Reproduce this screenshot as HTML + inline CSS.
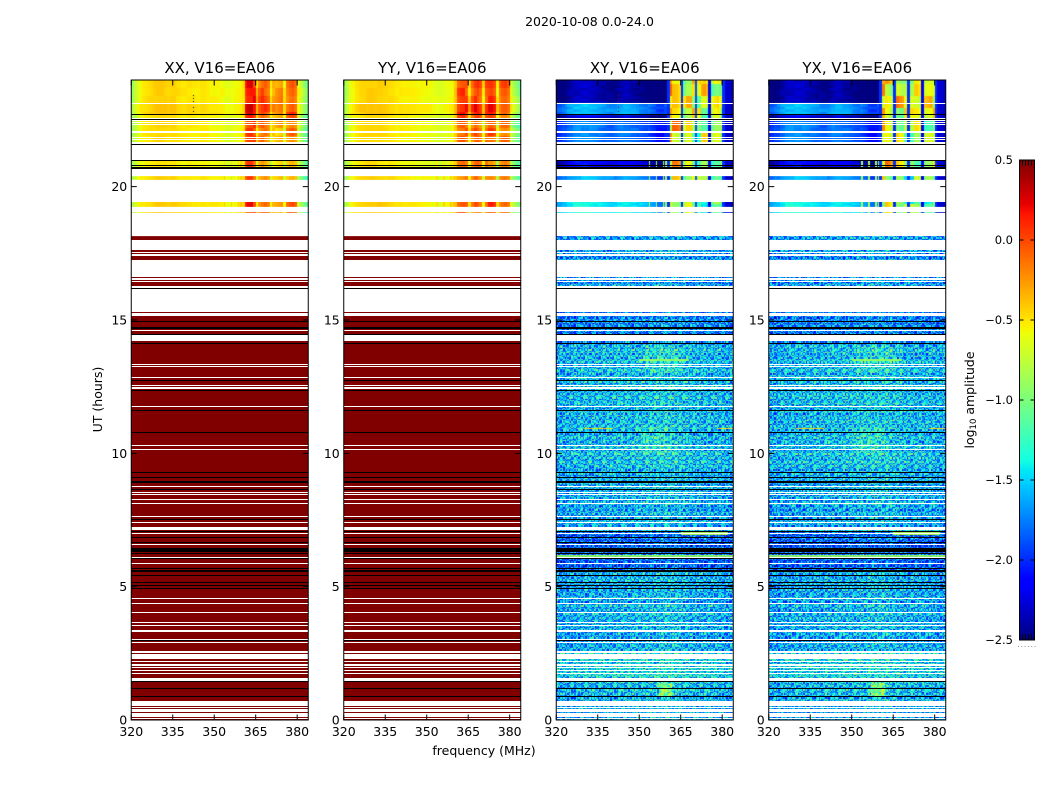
<!DOCTYPE html>
<html lang="en">
<head>
<meta charset="utf-8">
<title>2020-10-08 0.0-24.0</title>
<style>
html,body{margin:0;padding:0;background:#fff;width:1050px;height:800px;overflow:hidden}
#figure{position:relative;width:1050px;height:800px}
canvas{position:absolute;display:block}
svg{position:absolute;left:0;top:0}
text{font-family:"DejaVu Sans","Liberation Sans",sans-serif;fill:#000}
</style>
</head>
<body>
<div id="figure">
<svg id="overlay" width="1050" height="800" viewBox="0 0 1050 800" xmlns="http://www.w3.org/2000/svg">
  <text x="589.5" y="26" font-size="12.5" text-anchor="middle">2020-10-08 0.0-24.0</text>
  <text x="484" y="755" font-size="12.5" text-anchor="middle">frequency (MHz)</text>
  <text transform="translate(102,399.5) rotate(-90)" font-size="12.5" text-anchor="middle">UT (hours)</text>
  <text transform="translate(974,400) rotate(-90)" font-size="12.5" text-anchor="middle">log<tspan font-size="8.5" dy="2">10</tspan><tspan dy="-2"> amplitude</tspan></text>
</svg>
</div>
<script>
// ---------- data ----------
const panelTitles = ["XX, V16=EA06", "YY, V16=EA06", "XY, V16=EA06", "YX, V16=EA06"];
const xTickValues = [320, 335, 350, 365, 380];
const yTickValues = [0, 5, 10, 15, 20];
const colorbarTicks = [0.5, 0, -0.5, -1, -1.5, -2, -2.5];
const colorbarTickLabels = ["0.5", "0.0", "\u22120.5", "\u22121.0", "\u22121.5", "\u22122.0", "\u22122.5"];

// log10 amplitude by 1 MHz channel group, 320-383 MHz, upper bands
const xxSpectrum = [
 -0.85,-0.72,-0.6,-0.55,-0.52,-0.5,-0.48,-0.46,-0.44,-0.42,
 -0.42,-0.42,-0.44,-0.46,-0.44,-0.44,-0.46,-0.48,-0.5,-0.5,
 -0.5,-0.5,-0.52,-0.52,-0.54,-0.5,-0.5,-0.52,-0.54,-0.54,
 -0.54,-0.55,-0.56,-0.58,-0.62,-0.62,-0.6,-0.58,-0.56,-0.55,
 -0.5,0.08,0.16,0.18,0.12,-0.4,-0.1,0.0,-0.02,-0.1,
 -0.5,-0.28,-0.3,-0.25,-0.2,-0.55,-0.15,-0.06,-0.02,-0.1,
 -0.6,-0.75,-0.9,-1.0];
const yySpectrum = [
 -0.84,-0.72,-0.6,-0.55,-0.5,-0.48,-0.46,-0.45,-0.43,-0.42,
 -0.42,-0.43,-0.44,-0.44,-0.45,-0.46,-0.47,-0.48,-0.5,-0.52,
 -0.52,-0.53,-0.54,-0.53,-0.54,-0.54,-0.55,-0.56,-0.56,-0.57,
 -0.58,-0.58,-0.6,-0.62,-0.64,-0.64,-0.62,-0.6,-0.58,-0.56,
 -0.4,-0.02,0.04,0.06,0.0,-0.42,-0.08,0.06,0.05,-0.05,
 -0.48,-0.02,0.06,0.08,0.0,-0.55,-0.18,-0.08,-0.05,-0.12,
 -0.62,-0.76,-0.88,-1.0];
// cross-hand shape relative to each band's low level, 320-359 MHz
const crossLowShape = [
 -0.2,-0.18,-0.12,-0.08,0,0.03,0.08,0.1,0.1,0.1,
 0.12,0.1,0.1,0.08,0.06,0.05,0.03,0,-0.02,-0.05,
 -0.05,-0.05,0,0.03,0.05,0.05,0.03,0,0,-0.03,
 -0.05,-0.08,-0.1,-0.12,-0.18,-0.22,-0.28,-0.3,-0.3,-0.25];
// cross-hand absolute amplitude, 360-383 MHz
const xyHighSpectrum = [-2.0,-0.4,-0.32,-0.34,-0.42,-2.0,-0.72,-0.52,-0.52,-0.62,-1.9,-0.8,-0.72,-0.66,-0.76,-2.2,-0.76,-0.62,-0.56,-0.72,-2.0,-2.3,-2.3,-2.35];
const yxHighSpectrum = [-2.0,-0.38,-0.36,-0.42,-0.55,-2.0,-0.52,-0.62,-0.68,-0.72,-2.0,-0.78,-0.76,-0.72,-0.8,-2.2,-0.72,-0.66,-0.62,-0.7,-2.0,-2.25,-2.3,-2.3];

// upper observing bands: [start h, end h, parallel offset, cross low level, cross high offset, parallel high offset]
const upperBands = [
 [23.14,24.00, 0.00,-2.42, 0.00, 0.00],
 [22.72,23.14, 0.04,-1.65, 0.00, 0.05],
 [22.46,22.72,-0.03,-2.30,-0.10, 0.00],
 [21.65,22.46,-0.02,-1.80,-0.15,-0.10],
 [20.67,21.00,-0.05,-2.20,-0.12,-0.15],
 [20.25,20.40, 0.00,-1.65,-0.35,-0.20],
 [19.24,19.43, 0.02,-1.45,-0.35,-0.05],
 [19.01,19.05, 0.02,-1.40,-0.35,-0.10]
];
const narrowbandChannels = [353.5, 356, 358.5, 359.5];
const narrowbandMaxHour = 21.0;
const spikeHours = [23.44, 23.33, 23.21, 22.99, 22.84, 22.57];
const spikeFrequency = 342.5;

// mean cross-hand noise floor: [start h, end h, log10 amplitude]
const noiseBands = [
 [16.10,18.15,-1.65],[14.06,15.30,-1.72],[12.75,14.06,-1.52],[9.40,12.75,-1.52],
 [7.10,9.40,-1.58],[5.55,7.10,-1.85],[2.60,5.55,-1.58],[1.50,2.60,-1.42],[0.00,1.50,-1.55]
];
// noise spectrum adjustment in 4 MHz groups
const noiseSpectrum = [-0.06,-0.03,0,0,0,0.02,0.02,0.03,0.05,0.08,0.08,0.04,0,0,-0.01,-0.05];
// localised brighter patches: [start h, end h, f0, f1, added level]
const noisePatches = [[0.85,1.40,357,362,0.45],[10.0,11.0,350,362,0.12],[13.0,14.0,352,366,0.08]];
// bright interference rows: [hour, f0, f1, log10 amplitude]
const interferenceRows = [
 [13.50,350,368,-0.9],[10.91,330,340,-0.45],[10.91,378,384,-0.5],
 [6.15,320,384,-0.9],[1.54,320,384,-0.85],[7.00,365,382,-0.8]
];
// approximate speckle texture (digits 0-9), repeated across the noise regions
const speckleTile = [
 "3716250849273615082947361528403",
 "6251940372816405937261804527316",
 "1849372650218473960512748395062",
 "5203816497350286147930625184973",
 "7364029158647302581946037285140",
 "2958160473829514067382916054738",
 "4617385092146738205961473825096",
 "8032549761305829674130586297413",
 "1475926380417596238054719632805",
 "6938201547692830415769028347156",
 "3250784916032578461903725841690",
 "9146352087914635208759143620875",
 "2780413965827041396582704139658",
 "5619270348561927034856192703485",
 "4083956127408395612740839561274",
 "7325168490732516849073251684907",
 "1964803572196480357219648035721",
 "8507231946850723194685072319468",
 "3271640859327164085932716408593",
 "6490825713649082571364908257136",
 "0853174296085317429608531742960",
 "5726930418572693041857269304185",
 "2314769085231476908523147690852",
 "9048351627904835162790483516279"
];
const rowJitter = [0.06,-0.08,0.02,0.1,-0.04,-0.1,0.05,0,-0.06,0.12,-0.02,0.04,-0.12,0.07,-0.03,0.09,-0.07,0.01,-0.05];

// scans with no data (white), [upper h, lower h]
const missingRows = [
 [23.14,23.10],[22.58,22.54],[22.50,22.46],[22.43,22.39],[22.35,22.31],[22.07,22.03],[21.88,21.84],[21.79,21.75],
 [21.66,21.60],[21.57,21.00],[20.67,20.40],[20.25,19.43],[19.24,19.05],[19.01,18.15],[18.00,17.63],[17.56,17.53],
 [17.49,17.41],[17.25,16.61],[16.56,16.50],[16.46,16.43],[16.29,16.20],[16.17,15.30],[15.25,15.15],[14.61,14.58],
 [14.44,14.21],[13.34,13.31],[13.28,13.24],[12.86,12.83],[12.57,12.51],[12.49,12.41],[11.78,11.75],[10.31,10.29],
 [10.16,10.14],[8.78,8.75],[8.56,8.50],[8.48,8.43],[8.30,8.26],[8.14,8.11],[7.65,7.62],[7.43,7.40],[7.25,7.13],
 [7.01,6.98],[6.60,6.56],[6.12,6.09],[5.89,5.85],[4.58,4.53],[4.39,4.36],[4.05,4.02],[3.66,3.63],[3.56,3.54],
 [3.38,3.31],[3.03,3.00],[2.94,2.90],[2.59,2.52],[2.49,2.29],[2.21,2.16],[2.09,2.03],[1.99,1.95],[1.88,1.84],
 [1.77,1.74],[1.59,1.47],[0.72,0.54],[0.50,0.45],[0.41,0.30],[0.26,0.12],[0.09,0.02]
];
// flagged scans (black), [upper h, lower h]
const flaggedRows = [
 [22.73,22.69],[22.54,22.50],[21.60,21.57],[21.00,20.97],[20.80,20.78],[20.74,20.67],[16.20,16.17],[14.96,14.94],
 [14.73,14.67],[14.48,14.44],[14.13,14.10],[12.75,12.72],[12.38,12.35],[11.63,11.59],[10.80,10.77],[9.30,9.25],
 [9.10,9.08],[8.96,8.90],[8.65,8.63],[7.53,7.50],[7.10,7.08],[6.87,6.84],[6.66,6.64],[6.46,6.44],[6.41,6.30],
 [6.27,6.25],[6.09,6.05],[5.70,5.65],[5.63,5.56],[5.44,5.41],[5.16,5.14],[5.06,5.04],[4.96,4.92],[3.00,2.97],
 [1.45,1.43],[1.20,1.17],[0.90,0.87]
];

// ---------- axis functions ----------
const panelLeft = [131.25, 343.75, 556.25, 768.75];
const panelWidth = 177, panelTop = 80, panelBottom = 720;
const fMin = 320, fMax = 384, hMin = 0, hMax = 24;
const vMin = -2.5, vMax = 0.5;
const cbLeft = 1019.5, cbRight = 1034.5, cbTop = 160, cbBottom = 640;
function xScale(panel, f) { return panelLeft[panel] + (f - fMin) / (fMax - fMin) * panelWidth; }
function yScale(h) { return panelBottom - (h - hMin) / (hMax - hMin) * (panelBottom - panelTop); }
function cbScale(v) { return cbBottom - (v - vMin) / (vMax - vMin) * (cbBottom - cbTop); }

function ramp(points, t) {
  for (let i = 1; i < points.length; i++) {
    if (t <= points[i][0]) {
      const a = points[i - 1], b = points[i];
      return a[1] + (b[1] - a[1]) * (t - a[0]) / (b[0] - a[0]);
    }
  }
  return points[points.length - 1][1];
}
const jetR = [[0,0],[0.35,0],[0.66,1],[0.89,1],[1,0.5]];
const jetG = [[0,0],[0.125,0],[0.375,1],[0.64,1],[0.91,0],[1,0]];
const jetB = [[0,0.5],[0.11,1],[0.34,1],[0.65,0],[1,0]];
const palette = [];
for (let i = 0; i < 256; i++) {
  const t = i / 255;
  palette.push("rgb(" + Math.round(255 * ramp(jetR, t)) + "," + Math.round(255 * ramp(jetG, t)) + "," + Math.round(255 * ramp(jetB, t)) + ")");
}
function colorOf(v) {
  const t = Math.max(0, Math.min(1, (v - vMin) / (vMax - vMin)));
  return palette[Math.round(t * 255)];
}

function lookup(bands, h) {
  for (const b of bands) { if (h >= b[0] && h < b[1]) return b; }
  return null;
}
function speckle(row, col) {
  const r = row % speckleTile.length;
  const line = speckleTile[r];
  const shift = 7 * Math.floor(row / speckleTile.length);
  return Number(line[(col + shift) % line.length]) - 4.5;
}

function cellValue(panel, h, f, row, col) {
  const bin = Math.floor(f - fMin);
  const cross = panel >= 2;
  const band = lookup(upperBands, h);
  if (h >= 18.15) {
    if (!band) return null;
    let v;
    if (!cross) {
      const spectrum = panel === 0 ? xxSpectrum : yySpectrum;
      const block = speckle(Math.floor(row / 6) + panel, Math.floor(col / 8));
      v = spectrum[bin] + band[2] + (f >= 361 ? band[5] + block * 0.025 : block * 0.005);
    } else if (f < 360) {
      v = band[3] + crossLowShape[bin] + speckle(Math.floor(row / 2), Math.floor(col / 6)) * 0.012;
    } else {
      const spectrum = panel === 2 ? xyHighSpectrum : yxHighSpectrum;
      const base = spectrum[bin - 40];
      const block = speckle(Math.floor(row / 9) + panel * 3, Math.floor(col / 7));
      v = base + (base > -1.5 ? band[4] + block * 0.09 : 0);
    }
    if (h < narrowbandMaxHour) {
      for (const c of narrowbandChannels) {
        if (Math.abs(f - c) < 0.3) v = cross ? -0.85 : v + 0.15;
      }
    }
    return v;
  }
  if (!cross) return vMax;
  const floorBand = lookup(noiseBands, h);
  let level = (floorBand ? floorBand[2] : -1.6) + noiseSpectrum[Math.floor(bin / 4)];
  for (const p of noisePatches) {
    if (h >= p[0] && h < p[1] && f >= p[2] && f < p[3]) level += p[4];
  }
  for (const rr of interferenceRows) {
    if (Math.abs(h - rr[0]) < 0.03 && f >= rr[1] && f < rr[2]) return rr[3];
  }
  const rowStep = rowJitter[row % rowJitter.length];
  return level + rowStep + speckle(row + panel * 5, col + panel * 11) * 0.11;
}

// ---------- drawing ----------
const SVGNS = "http://www.w3.org/2000/svg";
const figure = document.getElementById("figure");
const overlay = document.getElementById("overlay");
function svgEl(tag, attrs, parent) {
  const el = document.createElementNS(SVGNS, tag);
  for (const k in attrs) el.setAttribute(k, attrs[k]);
  (parent || overlay).appendChild(el);
  return el;
}

const channelStep = 0.5, rowStepHours = 0.05;
const channelCount = Math.round((fMax - fMin) / channelStep);
const rowCount = Math.round((hMax - hMin) / rowStepHours);

panelTitles.forEach(function (title, p) {
  const left = Math.round(panelLeft[p]);
  const canvas = document.createElement("canvas");
  
  
  canvas.width = panelWidth;
  canvas.height = panelBottom - panelTop;
  canvas.style.left = left + "px";
  canvas.style.top = panelTop + "px";
  figure.insertBefore(canvas, overlay);
  const ctx = canvas.getContext("2d");
  for (let row = 0; row < rowCount; row++) {
    const h = hMin + row * rowStepHours;
    const y1 = Math.round(yScale(h)) - panelTop;
    const y0 = Math.round(yScale(h + rowStepHours)) - panelTop;
    for (let col = 0; col < channelCount; col++) {
      const f = fMin + col * channelStep;
      const v = cellValue(p, h + rowStepHours / 2, f, row, col);
      if (v === null) continue;
      const x0 = Math.round(xScale(p, f)) - left;
      const x1 = Math.round(xScale(p, f + channelStep)) - left;
      ctx.fillStyle = colorOf(v);
      ctx.fillRect(x0, y0, x1 - x0, y1 - y0);
    }
  }
  const spikes = (p === 0 || p === 2) ? spikeHours : spikeHours.slice(-1);
  spikes.forEach(function (h) {
    ctx.fillStyle = p < 2 ? "#000" : "#a00000";
    ctx.fillRect(Math.round(xScale(p, spikeFrequency)) - left, Math.round(yScale(h)) - panelTop, 1, 1);
  });

  const group = svgEl("g", {});
  
  

  missingRows.forEach(function (r) {
    const y0 = Math.round(yScale(r[0])), y1 = Math.round(yScale(r[1]));
    const rect = svgEl("rect", {x: left, y: y0, width: panelWidth, height: Math.max(1, y1 - y0), fill: "#fff", "shape-rendering": "crispEdges"}, group);
    
    
  });
  flaggedRows.forEach(function (r) {
    const y0 = Math.round(yScale(r[0])), y1 = Math.round(yScale(r[1]));
    const rect = svgEl("rect", {x: left, y: y0, width: panelWidth, height: Math.max(1, y1 - y0), fill: "#000", "shape-rendering": "crispEdges"}, group);
    
    
  });

  const frame = svgEl("rect", {x: panelLeft[p], y: panelTop, width: panelWidth, height: panelBottom - panelTop, fill: "none", stroke: "#000", "stroke-width": 1}, group);
  
  

  const titleEl = svgEl("text", {x: panelLeft[p] + panelWidth / 2, y: 73, "font-size": 15, "text-anchor": "middle"}, group);
  titleEl.textContent = title;
  
  

  xTickValues.forEach(function (f) {
    const x = xScale(p, f);
    const tick = svgEl("path", {d: "M" + x + " " + panelBottom + "v-5.5M" + x + " " + panelTop + "v5.5", stroke: "#000", "stroke-width": 1, fill: "none"}, group);
    
    
    const label = svgEl("text", {x: x, y: 736, "font-size": 12.5, "text-anchor": "middle"}, group);
    label.textContent = String(f);
    
    
  });
  yTickValues.forEach(function (h) {
    const y = yScale(h);
    const tick = svgEl("path", {d: "M" + panelLeft[p] + " " + y + "h5.5M" + (panelLeft[p] + panelWidth) + " " + y + "h-5.5", stroke: "#000", "stroke-width": 1, fill: "none"}, group);
    
    
    const label = svgEl("text", {x: panelLeft[p] - 4, y: y + 4.5, "font-size": 12.5, "text-anchor": "end"}, group);
    label.textContent = String(h);
    
    
  });
});

// ---------- colour bar ----------
const cbCanvas = document.createElement("canvas");


cbCanvas.width = 15;
cbCanvas.height = cbBottom - cbTop;
cbCanvas.style.left = "1020px";
cbCanvas.style.top = cbTop + "px";
figure.insertBefore(cbCanvas, overlay);
const cbCtx = cbCanvas.getContext("2d");
for (let i = 0; i < 256; i++) {
  const v0 = vMin + (vMax - vMin) * i / 256, v1 = vMin + (vMax - vMin) * (i + 1) / 256;
  const y0 = Math.round(cbScale(v1)) - cbTop, y1 = Math.round(cbScale(v0)) - cbTop;
  cbCtx.fillStyle = palette[i];
  cbCtx.fillRect(0, y0, 15, y1 - y0);
}
const cbFrame = svgEl("rect", {x: cbLeft, y: cbTop, width: cbRight - cbLeft, height: cbBottom - cbTop, fill: "none", stroke: "#000", "stroke-width": 1});


colorbarTicks.forEach(function (v, i) {
  const y = cbScale(v);
  const tick = svgEl("path", {d: "M" + cbLeft + " " + y + "h4M" + cbRight + " " + y + "h-4", stroke: "#000", "stroke-width": 1, fill: "none"});
  
  
  const label = svgEl("text", {x: 1013, y: y + 4, "font-size": 11.5, "text-anchor": "end"});
  label.textContent = colorbarTickLabels[i];
  
  
});
const cbEdgeTicks = [0.2, 0.4, 0.6, 0.8];
cbEdgeTicks.forEach(function (t) {
  const x = cbLeft + t * (cbRight - cbLeft);
  const tick = svgEl("path", {d: "M" + x + " " + cbTop + "v5.5M" + x + " " + cbBottom + "v-5.5", stroke: "#000", "stroke-width": 1, fill: "none"});
  
  
});
const cbDots = [0, 0.2, 0.4, 0.6, 0.8, 1];
cbDots.forEach(function (t) {
  const dot = svgEl("rect", {x: 1018 + t * 16.5, y: 646, width: 1, height: 1, fill: "#999"});
  
  
});
</script>
</body>
</html>
